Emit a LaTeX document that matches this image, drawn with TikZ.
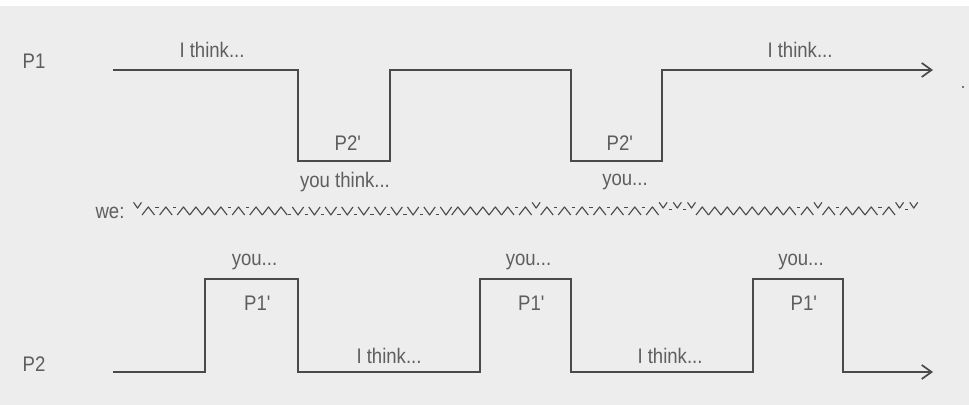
\documentclass[tikz,border=0pt]{standalone}
\usepackage{fontspec}
\setmainfont{Liberation Sans}[FakeStretch=0.88]
\usetikzlibrary{arrows.meta}
\definecolor{paper}{HTML}{EDEDED}
\definecolor{ink}{HTML}{4A4A4A}
\definecolor{inktext}{HTML}{5E5E5E}
% pieces of the "we" scribble: path and advance
\newcommand\wpatha{(0,0) -- (5.5,-7) -- (11,0)}
\newcommand\wpathd{(0.8,-6.5) -- (3.7,-6.5)}
\newcommand\wpathv{(0.5,-11) -- (4,-6) -- (7.5,-11)}
\newcommand\wpathl{(0.8,-5) -- (3.7,-5)}
\newcommand\wpathw{(0,-7) -- (5,0) -- (10,-7)}
\newcommand\wpathu{(0.8,-0.5) -- (3.7,-0.5)}
\newcommand\wlena{11}
\newcommand\wlend{4.5}
\newcommand\wlenv{8}
\newcommand\wlenl{4.5}
\newcommand\wlenw{10}
\newcommand\wlenu{4.5}
\tikzset{
  signal/.style={ink, line width=1.2pt, -{Straight Barb[length=7pt,width=10pt]}},
  lbl/.style={text=inktext, inner sep=0pt, font=\fontsize{15}{18}\selectfont},
  wave/.style={ink, line width=0.8pt, line join=round}
}
\begin{document}
\begin{tikzpicture}[x=0.025cm,y=-0.025cm]
  \useasboundingbox (0,0) rectangle (969,405);
  \fill[paper] (0,6) rectangle (969,405);

  % P1 line
  \draw[signal] (113,70) \foreach \a/\b in {298/390,571/662} { -- (\a,70) -- (\a,161) -- (\b,161) -- (\b,70) } -- (933,70);
  \node[lbl] (p1) at (34,61) {P1};
  \node[lbl] (t1) at (212,50) {I think...};
  \node[lbl] (q1) at (348,143) {P2\textquotesingle};
  \node[lbl] (y1) at (345,182) {you think...};
  \node[lbl] (q2) at (620,143) {P2\textquotesingle};
  \node[lbl] (y2) at (625,182) {you...};
  \node[lbl] (t2) at (800,50) {I think...};
  \fill[ink] (963,87) circle (1.2);

  % we
  \node[lbl] (we) at (110,213) {we:};
  \def\wx{133}
  \foreach \t in {v,a,d,a,d,a,a,a,a,d,a,d,a,a,a,
                  u,w,u,w,u,w,u,w,u,w,u,w,u,w,u,w,u,w,u,w,
                  a,a,a,a,a,d,a,v,a,d,a,d,a,d,a,d,a,d,a,d,a,v,l,v,l,v,
                  a,a,a,a,a,a,a,a,d,a,v,a,d,a,a,a,d,a,v,l,v} {
    \expandafter\let\expandafter\wpath\csname wpath\t\endcsname
    \draw[wave,shift={(\wx,215)},xscale=1.134,yscale=1.15] \wpath;
    \pgfmathsetmacro\wnext{\wx+1.134*\csname wlen\t\endcsname}
    \xdef\wx{\wnext}
  }

  % P2 line
  \draw[signal] (113,372) \foreach \a/\b in {205/298,480/571,753/843} { -- (\a,372) -- (\a,279) -- (\b,279) -- (\b,372) } -- (933,372);
  \node[lbl] (p2) at (34,364) {P2};
  \foreach \a/\b [count=\i] in {205/298,480/571,753/843} {
    \node[lbl] (you\i) at ({(\a+\b)/2+3},262) {you...};
    \node[lbl] (pp\i) at ({(\a+\b)/2+6},303) {P1\textquotesingle};
  }
  \node[lbl] (t3) at (389,356) {I think...};
  \node[lbl] (t4) at (670,356) {I think...};
\end{tikzpicture}
\end{document}
